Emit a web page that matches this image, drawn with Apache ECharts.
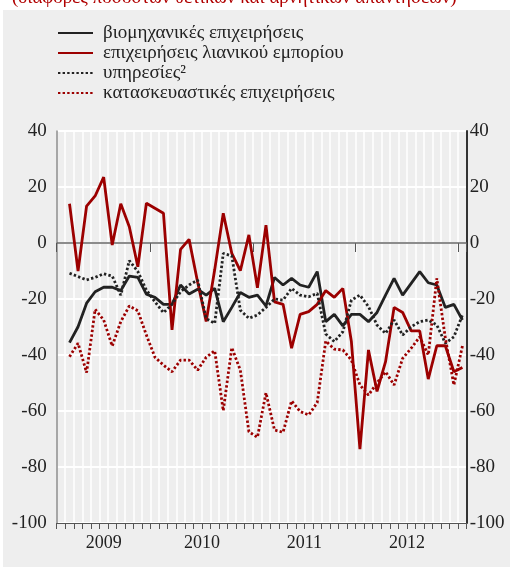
<!DOCTYPE html>
<html><head><meta charset="utf-8">
<script src="https://cdn.jsdelivr.net/npm/echarts@6/dist/echarts.min.js"></script>
<style>
html,body{margin:0;padding:0;background:#fff;}
#bg{position:absolute;left:3px;top:10px;width:507px;height:557px;background:#eeeeee;}
#chart{position:absolute;left:0;top:0;width:510px;height:567px;}
</style></head>
<body>
<div id="bg"></div>
<div id="chart"></div>
<script>
// Months (category bands) Feb 2009 .. Jan 2013
const months = [
 '2009-02','2009-03','2009-04','2009-05','2009-06','2009-07','2009-08','2009-09','2009-10','2009-11','2009-12',
 '2010-01','2010-02','2010-03','2010-04','2010-05','2010-06','2010-07','2010-08','2010-09','2010-10','2010-11','2010-12',
 '2011-01','2011-02','2011-03','2011-04','2011-05','2011-06','2011-07','2011-08','2011-09','2011-10','2011-11','2011-12',
 '2012-01','2012-02','2012-03','2012-04','2012-05','2012-06','2012-07','2012-08','2012-09','2012-10','2012-11','2012-12',
 '2013-01'];
const yearLabels = ['2009','2010','2011','2012'];
const yMin = -100, yMax = 40, yStep = 20;

const seriesNames = [
 'βιομηχανικές επιχειρήσεις',
 'επιχειρήσεις λιανικού εμπορίου',
 'υπηρεσίες²',
 'κατασκευαστικές επιχειρήσεις'
];

const industry = [null,
 -35.6,-29.9,-21.5,-17.4,-15.8,-15.8,-17,-11.8,-12.3,-18.3,
 -19.4,-21.9,-21.9,-15,-18.2,-16.5,-18.6,-16.2,-28.1,-23,-17.7,-19.4,
 -18.6,-22.5,-12.3,-15,-12.6,-15,-15.8,-10.2,-28.1,-25.5,-29.6,-25.5,
 -25.5,-28.1,-24.8,-18.6,-12.6,-18.6,-14.4,-10.2,-14.2,-15,-23,-21.9,
 -27.5];
const retail = [null,
 14,-10,13.2,16.8,23.5,-0.7,14,5.8,-8.5,14.2,
 12.4,10.6,-31,-2.3,1.3,-14,-28,-9.5,10.6,-3.7,-9.9,2.9,
 -16,6.4,-21,-21.9,-37.6,-25.5,-24.5,-21.9,-17,-19.4,-16.2,-35.2,
 -73.6,-38.2,-53,-42.4,-23,-24.8,-31.4,-31.4,-48.6,-36.7,-36.7,-46,
 -44.5];
const services = [null,
 -10.8,-12,-13.2,-12.3,-11,-11.8,-18.6,-6.3,-10.2,-16.8,
 -21,-24.9,-21.9,-17.4,-15,-13.2,-27,-28.7,-3.7,-4.6,-24,-26.9,
 -25.7,-23,-20,-20.4,-16.2,-18.6,-19.2,-18,-32.5,-35.2,-31.7,-20.4,
 -18.6,-22.7,-29.3,-32.3,-27.5,-32.9,-29.9,-28.1,-27.5,-29.3,-35.8,-33.5,
 -25.7];
const construction = [null,
 -40.6,-35.8,-46.3,-23.7,-27.5,-36.8,-28.1,-22.5,-24.2,-32.9,
 -40.8,-43.6,-46,-41.8,-41.8,-45.4,-40.8,-38.5,-59.9,-37.4,-45.4,-67.4,
 -69.4,-53.5,-66.8,-67.6,-56.4,-60.2,-61.4,-57,-35,-37.9,-38.2,-41.8,
 -50.7,-54.3,-50,-46,-50.7,-41.2,-37.6,-33.5,-40,-12.6,-34,-50.7,
 -36.8];

const FONT = '"Liberation Serif", "DejaVu Serif", serif';
const RED = '#9c0000';
const BLACK = '#222222';

// year positions derived from the month list
const yearMid = {}; const yearStart = [];
yearLabels.forEach(y => {
  const idx = months.map((m,i)=>m.startsWith(y)?i:-1).filter(i=>i>=0);
  yearMid[y] = (idx[0] + idx[idx.length-1] + 1) / 2;
});
months.forEach((m,i)=>{ if (i===0 || m.slice(0,4)!==months[i-1].slice(0,4)) yearStart.push(i); });
const labelVals = yearLabels.map(y=>yearMid[y]);

const toPts = arr => arr.map((v,i)=>[i+0.5, v]);

const chart = echarts.init(document.getElementById('chart'), null, {renderer:'canvas'});
chart.setOption({
  animation: false,
  graphic: [{
    type: 'text', left: 12, top: -11,
    style: { text: '(διαφορές ποσοστών θετικών και αρνητικών απαντήσεων)', font: '19px ' + FONT, fill: '#b00000' }
  }],
  legend: {
    orient: 'vertical', left: 57, top: 23, padding: 0, itemWidth: 35, itemHeight: 14, itemGap: 0,
    itemStyle: { opacity: 0 },
    textStyle: { fontFamily: FONT, fontSize: 19, lineHeight: 20, color: '#222', padding: [0,0,0,5] },
    data: seriesNames
  },
  grid: { left: 56.7, right: 43.3, top: 131, bottom: 44 },
  xAxis: [{
    type: 'value', min: 0, max: months.length, interval: 1,
    axisLine: { show: true, onZero: false, lineStyle: { color: '#555', width: 1 } },
    axisTick: { show: true, length: 6, lineStyle: { color: '#555', width: 1 } },
    splitLine: { show: true, lineStyle: { color: '#ffffff', width: 1.5 } },
    axisLabel: {
      customValues: labelVals, margin: 11,
      fontFamily: FONT, fontSize: 18, color: '#222',
      formatter: v => { const y = yearLabels.find(y => Math.abs(yearMid[y]-v) < 1e-6); return y || ''; }
    }
  }, {
    type: 'value', min: 0, max: months.length, position: 'bottom',
    axisLine: { show: false },
    axisTick: { show: true, customValues: yearStart.concat([months.length]), length: 9, lineStyle: { color: '#555', width: 1 } },
    splitLine: { show: false },
    axisLabel: { show: false }
  }],
  yAxis: [{
    type: 'value', min: yMin, max: yMax, interval: yStep, position: 'left',
    axisLine: { show: true, onZero: false, lineStyle: { color: '#8a8a8a', width: 1.5 } },
    axisTick: { show: false },
    splitLine: { show: true, lineStyle: { color: '#ffffff', width: 2 } },
    axisLabel: { margin: 10, fontFamily: FONT, fontSize: 19, color: '#222' }
  }, {
    type: 'value', min: yMin, max: yMax, interval: yStep, position: 'right',
    axisLine: { show: true, onZero: false, lineStyle: { color: '#333', width: 2 } },
    axisTick: { show: false },
    splitLine: { show: false },
    axisLabel: { margin: 3, fontFamily: FONT, fontSize: 19, color: '#222' }
  }],
  series: [
    { name: seriesNames[0], type: 'line', data: toPts(industry), symbol: 'none', z: 3,
      lineStyle: { color: BLACK, width: 2.8 }, itemStyle: { color: BLACK },
      markLine: { silent: true, symbol: 'none', z: 1, label: { show: false },
        lineStyle: { color: '#666', width: 1.6, type: 'solid' }, data: [{ yAxis: 0 }] } },
    { name: seriesNames[1], type: 'line', data: toPts(retail), symbol: 'none', z: 3,
      lineStyle: { color: RED, width: 2.8 }, itemStyle: { color: RED } },
    { name: seriesNames[2], type: 'line', data: toPts(services), symbol: 'none', z: 3,
      lineStyle: { color: BLACK, width: 2.8, type: [2.4, 2.2] }, itemStyle: { color: BLACK } },
    { name: seriesNames[3], type: 'line', data: toPts(construction), symbol: 'none', z: 3,
      lineStyle: { color: RED, width: 2.8, type: [2.4, 2.2] }, itemStyle: { color: RED } }
  ]
});
</script>
</body></html>
